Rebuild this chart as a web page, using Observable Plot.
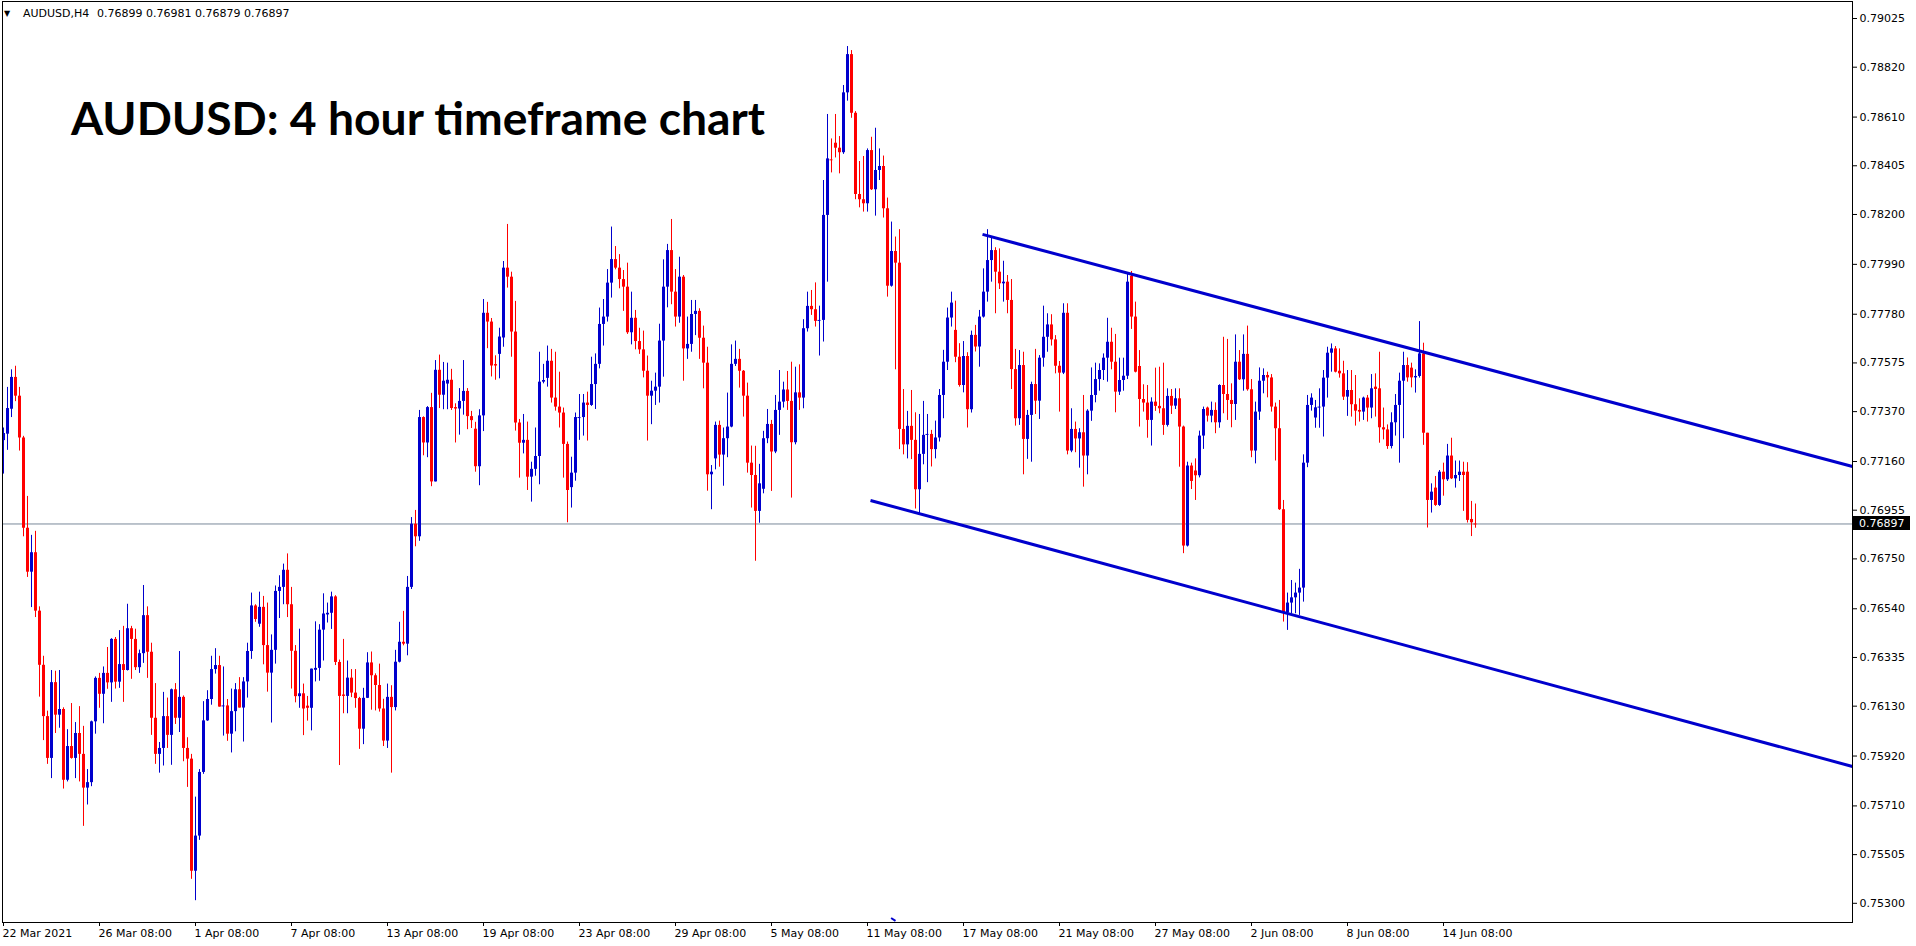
<!DOCTYPE html>
<html>
<head>
<meta charset="utf-8">
<script src="https://cdn.jsdelivr.net/npm/d3@7"></script>
<script src="https://cdn.jsdelivr.net/npm/@observablehq/plot@0.6"></script>
<style>
html, body { margin: 0; padding: 0; background: #ffffff; }
#chart { width: 1916px; height: 946px; overflow: hidden; }
</style>
</head>
<body>
<div id="chart"></div>
<script>
// ---------------- DATA (AUDUSD H4) ----------------
const opens = [
0.77248,0.77275,0.77380,0.77514,0.77435,0.77259,0.76879,0.76694,0.76776,0.76530,
0.76302,0.76086,0.75910,0.76229,0.76092,0.76116,0.75818,0.75960,0.75910,0.76015,
0.75927,0.75785,0.75808,0.76064,0.76247,0.76180,0.76268,0.76228,0.76411,0.76231,
0.76305,0.76280,0.76456,0.76411,0.76292,0.76351,0.76511,0.76357,0.76079,0.75927,
0.75952,0.76086,0.76007,0.76199,0.76079,0.76167,0.75952,0.75907,0.75435,0.75583,
0.75851,0.76068,0.76158,0.76284,0.76301,0.76126,0.76131,0.76012,0.76107,0.76199,
0.76122,0.76232,0.76360,0.76552,0.76475,0.76546,0.76385,0.76269,0.76365,0.76613,
0.76630,0.76702,0.76557,0.76361,0.76170,0.76182,0.76130,0.76121,0.76281,0.76289,
0.76450,0.76514,0.76521,0.76590,0.76314,0.76177,0.76171,0.76248,0.76185,0.76162,
0.76033,0.76163,0.76312,0.76258,0.76217,0.76118,0.75983,0.76167,0.76124,0.76315,
0.76399,0.76391,0.76630,0.76896,0.76843,0.77345,0.77238,0.77387,0.77074,0.77544,
0.77439,0.77486,0.77502,0.77387,0.77381,0.77413,0.77455,0.77349,0.77296,0.77138,
0.77352,0.77784,0.77747,0.77568,0.77611,0.77680,0.77974,0.77936,0.77705,0.77322,
0.77237,0.77249,0.77094,0.77127,0.77181,0.77494,0.77510,0.77582,0.77427,0.77389,
0.77364,0.77232,0.77050,0.77111,0.77343,0.77345,0.77406,0.77396,0.77484,0.77569,
0.77737,0.77768,0.77911,0.78010,0.77974,0.77926,0.77894,0.77702,0.77763,0.77665,
0.77630,0.77540,0.77435,0.77456,0.77473,0.77667,0.77894,0.78048,0.77873,0.77768,
0.77936,0.77634,0.77653,0.77779,0.77792,0.77679,0.77574,0.77104,0.77171,0.77312,
0.77187,0.77256,0.77305,0.77569,0.77590,0.77540,0.77435,0.77153,0.77101,0.76950,
0.77043,0.77256,0.77316,0.77200,0.77375,0.77410,0.77461,0.77413,0.77239,0.77449,
0.77427,0.77719,0.77813,0.77799,0.77750,0.77754,0.78196,0.78434,0.78500,0.78479,
0.78460,0.78712,0.78873,0.78626,0.78284,0.78262,0.78245,0.78469,0.78304,0.78385,
0.78402,0.78224,0.77898,0.78044,0.77995,0.77295,0.77230,0.77308,0.77249,0.77041,
0.77190,0.77270,0.77274,0.77210,0.77259,0.77438,0.77578,0.77764,0.77712,0.77599,
0.77480,0.77602,0.77378,0.77691,0.77642,0.77768,0.77873,0.78006,0.78048,0.77957,
0.77908,0.77915,0.77838,0.77547,0.77340,0.77564,0.77253,0.77354,0.77484,0.77414,
0.77595,0.77683,0.77735,0.77672,0.77561,0.77532,0.77784,0.77204,0.77295,0.77255,
0.77281,0.77183,0.77372,0.77438,0.77505,0.77543,0.77595,0.77662,0.77578,0.77452,
0.77501,0.77519,0.77940,0.77768,0.77560,0.77421,0.77406,0.77333,0.77410,0.77392,
0.77382,0.77312,0.77434,0.77393,0.77424,0.77305,0.76804,0.77141,0.77120,0.77100,
0.77267,0.77385,0.77351,0.77375,0.77323,0.77480,0.77442,0.77417,0.77400,0.77578,
0.77504,0.77611,0.77462,0.77204,0.77368,0.77498,0.77522,0.77512,0.77389,0.77298,
0.76957,0.76522,0.76564,0.76586,0.76606,0.76627,0.77153,0.77396,0.77343,0.77386,
0.77389,0.77511,0.77616,0.77634,0.77540,0.77529,0.77431,0.77459,0.77399,0.77375,
0.77368,0.77427,0.77385,0.77473,0.77466,0.77302,0.77293,0.77223,0.77323,0.77396,
0.77498,0.77564,0.77553,0.77512,0.77518,0.77613,0.77279,0.76996,0.77048,0.76975,
0.77115,0.77083,0.77183,0.77087,0.77101,0.77115,0.77115,0.76916,0.76899
];
const highs = [
0.77301,0.77472,0.77546,0.77561,0.77472,0.77266,0.77013,0.76849,0.76866,0.76548,
0.76340,0.76109,0.76280,0.76277,0.76280,0.76123,0.76031,0.76141,0.76061,0.76128,
0.76045,0.75863,0.76067,0.76253,0.76268,0.76295,0.76377,0.76414,0.76419,0.76448,
0.76466,0.76559,0.76466,0.76454,0.76366,0.76638,0.76548,0.76395,0.76225,0.75977,
0.76188,0.76164,0.76202,0.76225,0.76360,0.76173,0.75997,0.75927,0.75747,0.75863,
0.76149,0.76195,0.76340,0.76372,0.76340,0.76295,0.76158,0.76202,0.76225,0.76250,
0.76250,0.76395,0.76606,0.76557,0.76610,0.76592,0.76564,0.76430,0.76636,0.76679,
0.76728,0.76771,0.76630,0.76385,0.76454,0.76223,0.76171,0.76286,0.76485,0.76473,
0.76603,0.76564,0.76610,0.76595,0.76324,0.76411,0.76320,0.76284,0.76284,0.76167,
0.76205,0.76355,0.76358,0.76266,0.76307,0.76159,0.76223,0.76216,0.76365,0.76483,
0.76529,0.76676,0.76924,0.76954,0.77375,0.77348,0.77391,0.77447,0.77585,0.77608,
0.77577,0.77574,0.77548,0.77403,0.77467,0.77585,0.77467,0.77371,0.77325,0.77378,
0.77842,0.77830,0.77762,0.77605,0.77721,0.78002,0.78158,0.77957,0.77834,0.77337,
0.77358,0.77326,0.77157,0.77301,0.77620,0.77569,0.77646,0.77632,0.77620,0.77536,
0.77385,0.77242,0.77178,0.77364,0.77442,0.77442,0.77452,0.77599,0.77613,0.77806,
0.77842,0.77968,0.78147,0.78065,0.78031,0.77964,0.77995,0.77873,0.77796,0.77721,
0.77709,0.77604,0.77498,0.77532,0.77738,0.78009,0.78074,0.78179,0.77968,0.78020,
0.77943,0.77768,0.77838,0.77838,0.77803,0.77730,0.77641,0.77143,0.77326,0.77330,
0.77301,0.77448,0.77651,0.77667,0.77632,0.77543,0.77490,0.77225,0.77224,0.77148,
0.77287,0.77379,0.77333,0.77438,0.77543,0.77494,0.77539,0.77578,0.77557,0.77567,
0.77757,0.77873,0.77880,0.77912,0.77814,0.78343,0.78621,0.78518,0.78621,0.78528,
0.78743,0.78907,0.78890,0.78633,0.78423,0.78444,0.78476,0.78525,0.78563,0.78476,
0.78446,0.78269,0.78168,0.78105,0.78136,0.77463,0.77371,0.77459,0.77365,0.77358,
0.77413,0.77358,0.77291,0.77330,0.77463,0.77628,0.77806,0.77873,0.77835,0.77656,
0.77665,0.77618,0.77709,0.77733,0.77796,0.77971,0.78136,0.78105,0.78060,0.78055,
0.78003,0.77943,0.77926,0.77632,0.77627,0.77620,0.77375,0.77494,0.77632,0.77606,
0.77814,0.77782,0.77778,0.77690,0.77581,0.77824,0.77824,0.77382,0.77326,0.77298,
0.77438,0.77378,0.77554,0.77574,0.77571,0.77613,0.77763,0.77721,0.77695,0.77595,
0.77595,0.77954,0.77960,0.77831,0.77627,0.77483,0.77480,0.77428,0.77553,0.77557,
0.77574,0.77466,0.77463,0.77466,0.77466,0.77309,0.77157,0.77153,0.77171,0.77288,
0.77389,0.77389,0.77410,0.77407,0.77483,0.77683,0.77674,0.77487,0.77693,0.77627,
0.77693,0.77730,0.77505,0.77410,0.77554,0.77550,0.77536,0.77526,0.77406,0.77417,
0.76996,0.76606,0.76659,0.76648,0.76706,0.77188,0.77438,0.77445,0.77417,0.77466,
0.77543,0.77641,0.77655,0.77644,0.77634,0.77582,0.77543,0.77543,0.77522,0.77424,
0.77431,0.77438,0.77526,0.77529,0.77620,0.77385,0.77314,0.77365,0.77442,0.77532,
0.77620,0.77596,0.77574,0.77546,0.77749,0.77658,0.77279,0.77066,0.77097,0.77122,
0.77153,0.77232,0.77258,0.77162,0.77162,0.77157,0.77155,0.76992,0.76981
];
const lows = [
0.77107,0.77207,0.77345,0.77412,0.77204,0.76843,0.76672,0.76545,0.76503,0.76168,
0.75985,0.75885,0.75825,0.76015,0.76037,0.75781,0.75811,0.75907,0.75825,0.75811,
0.75624,0.75714,0.75791,0.76012,0.76121,0.76056,0.76201,0.76146,0.76202,0.76205,
0.76146,0.76278,0.76243,0.76280,0.76268,0.76310,0.76247,0.76007,0.75885,0.75848,
0.75878,0.75952,0.75881,0.76053,0.76019,0.75896,0.75788,0.75401,0.75311,0.75565,
0.75843,0.76066,0.76134,0.76265,0.76126,0.76004,0.75982,0.75933,0.76022,0.76122,
0.75979,0.76164,0.76327,0.76483,0.76462,0.76304,0.76189,0.76059,0.76307,0.76499,
0.76557,0.76503,0.76202,0.76144,0.76121,0.76006,0.76067,0.76026,0.76232,0.76235,
0.76320,0.76480,0.76453,0.76301,0.75880,0.76098,0.76098,0.76166,0.76121,0.75948,
0.75968,0.76162,0.76113,0.76110,0.76105,0.75960,0.75952,0.75848,0.76110,0.76312,
0.76384,0.76342,0.76621,0.76801,0.76824,0.77184,0.77176,0.77054,0.77074,0.77383,
0.77378,0.77378,0.77375,0.77238,0.77271,0.77355,0.77294,0.77299,0.77115,0.77058,
0.77286,0.77635,0.77516,0.77502,0.77508,0.77641,0.77890,0.77599,0.77288,0.77090,
0.77192,0.77038,0.76989,0.77098,0.77062,0.77487,0.77473,0.77406,0.77372,0.77301,
0.77090,0.76902,0.76964,0.77077,0.77249,0.77267,0.77246,0.77392,0.77379,0.77550,
0.77646,0.77747,0.77848,0.77967,0.77887,0.77792,0.77695,0.77651,0.77630,0.77611,
0.77512,0.77246,0.77315,0.77396,0.77406,0.77515,0.77807,0.77820,0.77726,0.77742,
0.77498,0.77590,0.77620,0.77690,0.77590,0.77466,0.77035,0.76957,0.77125,0.77136,
0.77056,0.77176,0.77302,0.77560,0.77469,0.77347,0.77111,0.76964,0.76740,0.76900,
0.77024,0.77235,0.77034,0.77193,0.77270,0.77385,0.77375,0.77006,0.77230,0.77375,
0.77382,0.77705,0.77775,0.77726,0.77604,0.77663,0.77915,0.78375,0.78438,0.78371,
0.78453,0.78677,0.78605,0.78262,0.78228,0.78210,0.78210,0.78301,0.78193,0.78343,
0.78185,0.77852,0.77894,0.77546,0.77210,0.77188,0.77171,0.77168,0.76960,0.76935,
0.77146,0.77071,0.77137,0.77171,0.77242,0.77340,0.77543,0.77726,0.77576,0.77473,
0.77449,0.77301,0.77364,0.77621,0.77557,0.77764,0.77831,0.77915,0.77782,0.77884,
0.77831,0.77782,0.77463,0.77309,0.77312,0.77104,0.77169,0.77157,0.77358,0.77337,
0.77557,0.77620,0.77646,0.77529,0.77368,0.77526,0.77188,0.77197,0.77197,0.77132,
0.77052,0.77104,0.77329,0.77407,0.77456,0.77501,0.77494,0.77546,0.77365,0.77438,
0.77456,0.77505,0.77716,0.77533,0.77305,0.77368,0.77258,0.77225,0.77371,0.77361,
0.77270,0.77305,0.77358,0.77379,0.77136,0.76772,0.76800,0.77042,0.76996,0.77091,
0.77211,0.77326,0.77323,0.77277,0.77300,0.77361,0.77333,0.77302,0.77333,0.77501,
0.77456,0.77456,0.77176,0.77150,0.77333,0.77445,0.77428,0.77368,0.77162,0.76954,
0.76484,0.76449,0.76519,0.76519,0.76512,0.76568,0.77134,0.77372,0.77300,0.77300,
0.77263,0.77427,0.77536,0.77533,0.77511,0.77417,0.77350,0.77347,0.77309,0.77326,
0.77333,0.77326,0.77340,0.77347,0.77237,0.77251,0.77211,0.77213,0.77267,0.77153,
0.77256,0.77494,0.77470,0.77448,0.77511,0.77228,0.76880,0.76943,0.76971,0.76971,
0.77014,0.77076,0.77084,0.77048,0.77076,0.76950,0.76901,0.76844,0.76879
];
const closes = [
0.77278,0.77383,0.77514,0.77435,0.77259,0.76879,0.76694,0.76776,0.76530,0.76302,
0.76086,0.75910,0.76229,0.76092,0.76116,0.75818,0.75960,0.75910,0.76015,0.75927,
0.75785,0.75808,0.76064,0.76247,0.76180,0.76268,0.76228,0.76411,0.76231,0.76305,
0.76280,0.76456,0.76411,0.76292,0.76351,0.76511,0.76357,0.76079,0.75927,0.75952,
0.76086,0.76007,0.76199,0.76079,0.76167,0.75952,0.75907,0.75435,0.75583,0.75851,
0.76068,0.76158,0.76284,0.76301,0.76126,0.76131,0.76012,0.76107,0.76199,0.76122,
0.76232,0.76360,0.76552,0.76495,0.76546,0.76385,0.76269,0.76365,0.76613,0.76630,
0.76702,0.76557,0.76361,0.76170,0.76182,0.76118,0.76121,0.76286,0.76289,0.76450,
0.76518,0.76521,0.76590,0.76314,0.76171,0.76171,0.76248,0.76185,0.76162,0.76033,
0.76163,0.76312,0.76258,0.76217,0.76118,0.75983,0.76167,0.76124,0.76315,0.76399,
0.76391,0.76630,0.76896,0.76843,0.77345,0.77238,0.77387,0.77074,0.77544,0.77439,
0.77498,0.77502,0.77383,0.77381,0.77413,0.77455,0.77349,0.77332,0.77138,0.77352,
0.77784,0.77747,0.77562,0.77562,0.77684,0.77974,0.77936,0.77705,0.77322,0.77237,
0.77249,0.77094,0.77127,0.77181,0.77494,0.77501,0.77582,0.77427,0.77389,0.77364,
0.77232,0.77038,0.77111,0.77345,0.77345,0.77406,0.77396,0.77484,0.77569,0.77737,
0.77768,0.77911,0.78010,0.77974,0.77926,0.77894,0.77702,0.77763,0.77665,0.77630,
0.77540,0.77435,0.77456,0.77473,0.77667,0.77894,0.78048,0.77873,0.77768,0.77936,
0.77634,0.77653,0.77779,0.77792,0.77679,0.77574,0.77104,0.77115,0.77312,0.77187,
0.77256,0.77305,0.77569,0.77590,0.77540,0.77435,0.77153,0.77101,0.76950,0.77066,
0.77256,0.77316,0.77200,0.77375,0.77410,0.77461,0.77413,0.77239,0.77449,0.77427,
0.77719,0.77813,0.77799,0.77750,0.77754,0.78196,0.78434,0.78430,0.78479,0.78460,
0.78712,0.78873,0.78626,0.78284,0.78262,0.78245,0.78469,0.78304,0.78385,0.78402,
0.78224,0.77898,0.78044,0.77995,0.77295,0.77230,0.77308,0.77249,0.77041,0.77190,
0.77270,0.77274,0.77210,0.77259,0.77438,0.77578,0.77764,0.77827,0.77599,0.77480,
0.77602,0.77378,0.77691,0.77642,0.77768,0.77873,0.78006,0.78048,0.77957,0.77908,
0.77915,0.77838,0.77547,0.77340,0.77564,0.77253,0.77354,0.77484,0.77414,0.77595,
0.77683,0.77735,0.77672,0.77561,0.77532,0.77784,0.77204,0.77295,0.77255,0.77281,
0.77183,0.77372,0.77438,0.77505,0.77543,0.77595,0.77662,0.77578,0.77452,0.77501,
0.77519,0.77915,0.77768,0.77536,0.77421,0.77406,0.77333,0.77410,0.77392,0.77382,
0.77312,0.77434,0.77393,0.77424,0.77305,0.76804,0.77141,0.77076,0.77100,0.77267,
0.77379,0.77351,0.77375,0.77323,0.77480,0.77442,0.77417,0.77400,0.77578,0.77504,
0.77611,0.77462,0.77204,0.77368,0.77498,0.77522,0.77512,0.77389,0.77298,0.76957,
0.76522,0.76564,0.76586,0.76606,0.76627,0.77153,0.77396,0.77427,0.77386,0.77389,
0.77511,0.77616,0.77634,0.77536,0.77529,0.77431,0.77459,0.77399,0.77372,0.77368,
0.77427,0.77385,0.77466,0.77463,0.77302,0.77293,0.77223,0.77323,0.77396,0.77498,
0.77564,0.77512,0.77512,0.77518,0.77613,0.77279,0.76996,0.77031,0.76975,0.77115,
0.77083,0.77183,0.77087,0.77101,0.77115,0.77101,0.76912,0.76902,0.76897
];

// x-axis: bar index of each labelled bar, and its label
const timeTickBars = [0, 24, 48, 72, 96, 120, 144, 168, 192, 216, 240, 264, 288, 312, 336, 360];
const timeTickLabels = ["22 Mar 2021", "26 Mar 08:00", "1 Apr 08:00", "7 Apr 08:00", "13 Apr 08:00",
  "19 Apr 08:00", "23 Apr 08:00", "29 Apr 08:00", "5 May 08:00", "11 May 08:00", "17 May 08:00",
  "21 May 08:00", "27 May 08:00", "2 Jun 08:00", "8 Jun 08:00", "14 Jun 08:00"];
// y-axis price ticks
const priceTicks = [0.79025, 0.78820, 0.78610, 0.78405, 0.78200, 0.77990, 0.77780, 0.77575, 0.77370,
  0.77160, 0.76955, 0.76750, 0.76540, 0.76335, 0.76130, 0.75920, 0.75710, 0.75505, 0.75300];
// descending channel (bar index, price)
const upperChannelBar = [244.75, 462.25];
const upperChannelPrice = [0.78116, 0.77139];
const lowerChannelBar = [216.75, 462.25];
const lowerChannelPrice = [0.76996, 0.75876];
// small blue marker stroke near the bottom edge (bar index, price)
const markerBar = [221.9, 223.0];
const markerPrice = [0.75238, 0.75226];
const lastPrice = 0.76897;
const symbolText = "AUDUSD,H4";
const ohlcText = "0.76899 0.76981 0.76879 0.76897";
const titleText = "AUDUSD: 4 hour timeframe chart";

// ---------------- CHART ----------------
const BLUE = "#0000CD", RED = "#FF0000";
const candles = opens.map((o, i) => ({i, o, h: highs[i], l: lows[i], c: closes[i]}));
const bulls = candles.filter(d => d.c >= d.o);
const bears = candles.filter(d => d.c < d.o);
const bodyMin = 0.00005;
const fat = arr => arr.filter(d => Math.abs(d.c - d.o) >= bodyMin);
const thin = arr => arr.filter(d => Math.abs(d.c - d.o) < bodyMin);
const upper = upperChannelBar.map((b, k) => ({b, p: upperChannelPrice[k]}));
const lower = lowerChannelBar.map((b, k) => ({b, p: lowerChannelPrice[k]}));
const marker = markerBar.map((b, k) => ({b, p: markerPrice[k]}));

const FONT = "'DejaVu Sans', Verdana, sans-serif";

const plot = Plot.plot({
  width: 1916,
  height: 946,
  marginLeft: 2,
  marginTop: 1,
  marginRight: 64,
  marginBottom: 24,
  style: {fontFamily: FONT, fontSize: "11px", background: "#ffffff", color: "#000000"},
  x: {
    domain: [-0.25, 462.25],
    ticks: timeTickBars,
    tickFormat: d => timeTickLabels[timeTickBars.indexOf(d)],
    tickSize: 4,
    tickPadding: 3,
    label: null
  },
  y: {
    domain: [0.752192, 0.790966],
    axis: "right",
    ticks: priceTicks,
    tickFormat: d3.format(".5f"),
    tickSize: 4,
    tickPadding: 3,
    label: null
  },
  marks: [
    Plot.ruleY([lastPrice], {stroke: "#7a8899", strokeWidth: 1}),
    Plot.ruleX(bulls, {x: "i", y1: "l", y2: "h", stroke: BLUE, strokeWidth: 1}),
    Plot.ruleX(bears, {x: "i", y1: "l", y2: "h", stroke: RED, strokeWidth: 1}),
    Plot.ruleX(fat(bulls), {x: "i", y1: "o", y2: "c", stroke: BLUE, strokeWidth: 3, strokeLinecap: "butt"}),
    Plot.ruleX(fat(bears), {x: "i", y1: "o", y2: "c", stroke: RED, strokeWidth: 3, strokeLinecap: "butt"}),
    Plot.ruleY(thin(bulls), {y: "c", x1: d => d.i - 0.375, x2: d => d.i + 0.375, stroke: BLUE, strokeWidth: 1}),
    Plot.ruleY(thin(bears), {y: "c", x1: d => d.i - 0.375, x2: d => d.i + 0.375, stroke: RED, strokeWidth: 1}),
    Plot.line(upper, {x: "b", y: "p", stroke: BLUE, strokeWidth: 3, strokeLinecap: "butt"}),
    Plot.line(lower, {x: "b", y: "p", stroke: BLUE, strokeWidth: 3, strokeLinecap: "butt"}),
    Plot.line(marker, {x: "b", y: "p", stroke: BLUE, strokeWidth: 2, strokeLinecap: "butt"}),
    Plot.frame({stroke: "#000000"})
  ]
});

document.getElementById("chart").appendChild(plot);
const svg = d3.select(plot.tagName.toLowerCase() === "svg" ? plot : plot.querySelector("svg"));

// axis text styling
svg.selectAll('[aria-label^="x-axis"] text')
  .attr("text-anchor", "start").attr("dx", "-1").attr("fill", "#000").attr("font-size", 11);
svg.selectAll('[aria-label^="y-axis"] text').attr("fill", "#000").attr("font-size", 11);
svg.selectAll('[aria-label^="x-axis"] line, [aria-label^="y-axis"] line').attr("stroke", "#000");

// current price label on the price scale
const yPix = plot.scale("y").apply(lastPrice);
const xRight = 1916 - 64;
svg.append("rect").attr("x", xRight + 1).attr("y", Math.round(yPix) - 7)
  .attr("width", 57).attr("height", 14).attr("fill", "#000");
svg.append("text").attr("x", xRight + 7).attr("y", yPix).attr("dy", "0.35em")
  .attr("text-anchor", "start")
  .attr("fill", "#fff").attr("font-family", FONT).attr("font-size", 11)
  .text(d3.format(".5f")(lastPrice));

// header line (top-left)
const header = svg.append("g").attr("font-family", FONT).attr("font-size", 11)
  .attr("fill", "#000").attr("text-anchor", "start");
header.append("text").attr("x", 4).attr("y", 16).attr("font-size", 8).text("\u25BC");
header.append("text").attr("x", 23).attr("y", 17).text(symbolText);
header.append("text").attr("x", 97).attr("y", 17).text(ohlcText);

// big title inside the chart
const title = svg.append("text").attr("x", 71).attr("y", 135).attr("text-anchor", "start")
  .attr("font-family", "Lato, 'Open Sans', sans-serif").attr("font-weight", 700)
  .attr("font-size", 48).attr("fill", "#000").text(titleText);
const tw = title.node().getComputedTextLength();
if (tw > 0) title.attr("font-size", 48 * 694 / tw);
</script>
</body>
</html>
